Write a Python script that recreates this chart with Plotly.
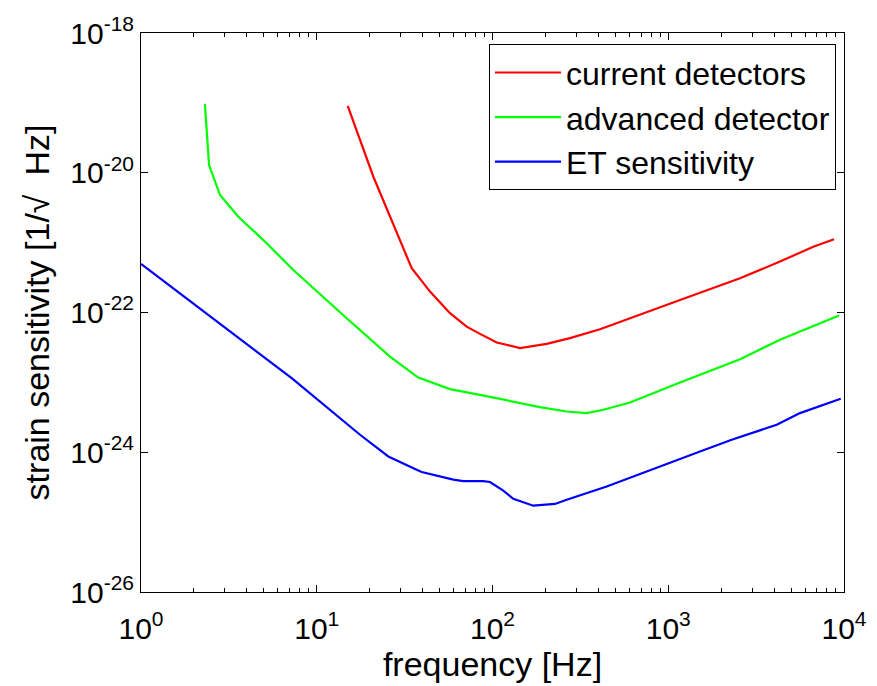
import plotly.graph_objects as go

# ---- data ----
red_f = [15, 21, 34.7, 44.1, 57.3, 71.3, 84.9, 105.7, 143.4, 203.4, 276, 409, 1167, 2561, 4324, 6688, 8774]
red_h = [9.08e-20, 8.77e-21, 4.30e-22, 1.99e-22, 9.77e-23, 6.28e-23, 4.94e-23, 3.72e-23, 3.09e-23,
         3.56e-23, 4.30e-23, 5.77e-23, 1.51e-22, 3.09e-22, 5.35e-22, 8.75e-22, 1.12e-21]

green_f = [2.31, 2.44, 2.815, 3.58, 5.19, 7.36, 14.8, 26.1, 37.8, 57.3, 84.9, 186, 264, 344, 427, 606,
           1167, 2561, 4324, 9368]
green_h = [9.59e-20, 1.29e-20, 4.80e-21, 2.35e-21, 9.79e-22, 4.06e-22, 8.28e-23, 2.34e-23, 1.17e-23,
           8.0e-24, 6.64e-24, 4.43e-24, 3.83e-24, 3.63e-24, 4.06e-24, 5.15e-24, 9.95e-24, 2.15e-23,
           4.06e-23, 9.04e-23]

blue_f = [1, 7.2, 17.63, 25.54, 36.23, 39.55, 59.84, 68.2, 88.64, 96.8, 115.2, 131.3, 170.7, 226.8,
          264.4, 446.4, 1516, 2296, 4141, 5618, 9577]
blue_h = [4.95e-22, 1.15e-23, 1.78e-24, 8.71e-25, 5.75e-25, 5.21e-25, 4.05e-25, 3.87e-25, 3.87e-25,
          3.75e-25, 2.82e-25, 2.16e-25, 1.72e-25, 1.82e-25, 2.09e-25, 3.24e-25, 1.026e-24, 1.51e-24,
          2.47e-24, 3.63e-24, 5.82e-24]

series_names = ["current detectors", "advanced detector", "ET sensitivity"]

x_tickvals = [1, 10, 100, 1000, 10000]
x_ticktext = ["10<sup>0</sup>", "10<sup>1</sup>", "10<sup>2</sup>", "10<sup>3</sup>", "10<sup>4</sup>"]
x_minor = [m * d for d in [1, 10, 100, 1000] for m in range(2, 10)]

y_tickvals = [1e-26, 1e-24, 1e-22, 1e-20, 1e-18]
y_ticktext = ["10<sup>-26</sup>", "10<sup>-24</sup>", "10<sup>-22</sup>", "10<sup>-20</sup>", "10<sup>-18</sup>"]

FONT = "Liberation Sans, Arial, sans-serif"

fig = go.Figure()
for f, h, name, col in [(red_f, red_h, series_names[0], "#ff0000"),
                        (green_f, green_h, series_names[1], "#00ff00"),
                        (blue_f, blue_h, series_names[2], "#0000ff")]:
    fig.add_trace(go.Scatter(x=f, y=h, mode="lines", name=name,
                             line=dict(color=col, width=2.2)))

axis_common = dict(
    type="log", showgrid=False, zeroline=False,
    showline=True, linecolor="black", linewidth=1, mirror="ticks",
    ticks="inside", ticklen=7, tickcolor="black", tickwidth=1,
    tickfont=dict(family=FONT, size=30, color="black"),
    automargin=False,
)

fig.update_xaxes(
    **axis_common,
    range=[0, 4], tickmode="array", tickvals=x_tickvals, ticktext=x_ticktext,
    ticklabelstandoff=10,
    minor=dict(tickmode="array", tickvals=x_minor, ticks="inside", ticklen=4,
               tickcolor="black", tickwidth=1, showgrid=False),
    title=dict(text="frequency [Hz]", font=dict(family=FONT, size=34, color="black"), standoff=2),
)
fig.update_yaxes(
    **axis_common,
    range=[-26, -18], tickmode="array", tickvals=y_tickvals, ticktext=y_ticktext,
    title=dict(text="strain sensitivity [1/√\u00a0 Hz]", font=dict(family=FONT, size=34, color="black"),
               standoff=10),
)

fig.update_layout(
    width=877, height=686,
    margin=dict(l=141, r=33, t=33, b=94),
    paper_bgcolor="white", plot_bgcolor="white",
    font=dict(family=FONT, size=30, color="black"),
    legend=dict(x=0.9886, y=0.980, xanchor="right", yanchor="top",
                bgcolor="white", bordercolor="black", borderwidth=1,
                font=dict(family=FONT, size=32, color="black"),
                itemwidth=66, tracegroupgap=0),
)

fig.write_html("out.html")
